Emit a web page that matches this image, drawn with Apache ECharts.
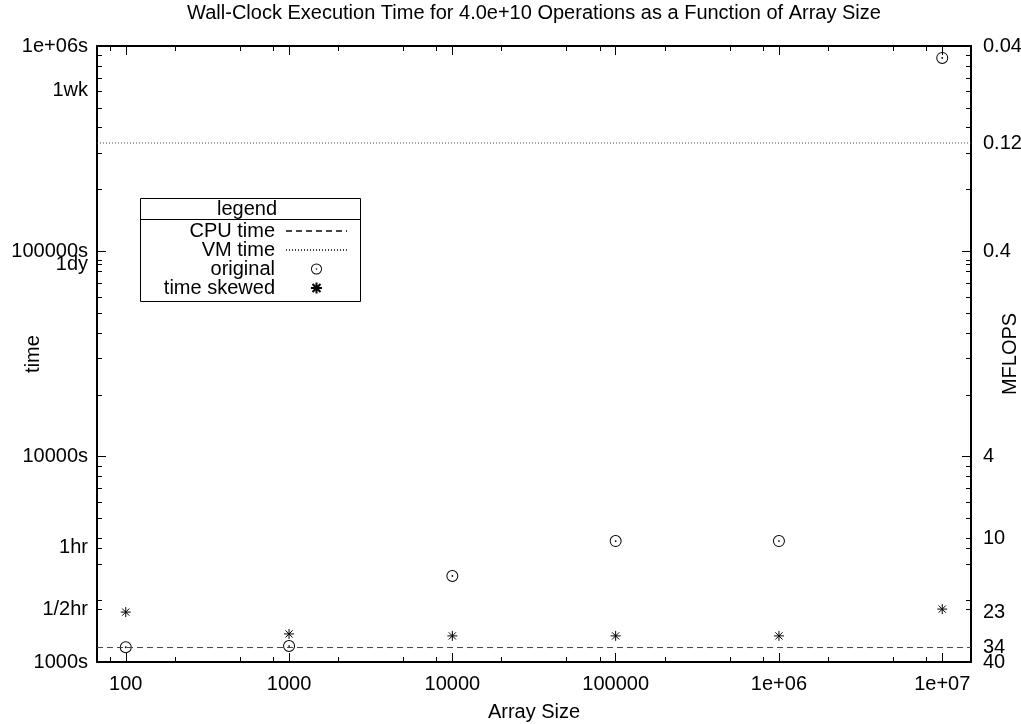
<!DOCTYPE html>
<html><head><meta charset="utf-8">
<script src="https://cdn.jsdelivr.net/npm/echarts@6/dist/echarts.min.js"></script>
<style>html,body{margin:0;padding:0;background:#fff}#c{width:1021px;height:724px}</style>
</head><body><div id="c"></div><script>
// ---- data ----
const arraySizes = [100, 1000, 10000, 100000, 1000000, 10000000];
const originalTimes = [1180, 1196, 2625, 3880, 3880, 875000];
const skewedTimes = [1750, 1370, 1340, 1340, 1340, 1810];
const cpuTime = 1176;
const vmTime = 337000;
const xRange = [100 / 1.5, 1.5e7];
const yRange = [1000, 1e6];
const mflopsRange = [0.04, 40];
const xTickValues = [100, 1000, 10000, 100000, 1e6, 1e7];
const xTickLabels = ['100', '1000', '10000', '100000', '1e+06', '1e+07'];
const yMajorTicks = [1000, 10000, 100000, 1e6];
const yTickValues = [1000, 1800, 3600, 10000, 86400, 100000, 604800, 1e6];
const yTickLabels = ['1000s', '1/2hr', '1hr', '10000s', '1dy', '100000s', '1wk', '1e+06s'];
const yExtraTicks = [1800, 3600, 86400, 604800];
const mflopsTickValues = [0.04, 0.12, 0.4, 4, 10, 23, 34, 40];
const mflopsTickLabels = ['0.04', '0.12', '0.4', '4', '10', '23', '34', '40'];
const xMinorMult = [2, 5, 8];
const yMinorMult = [2, 3, 4, 5, 6, 7, 8, 9];

function minorTicks(mults, range) {
  const out = [];
  for (let e = 0; e <= 8; e++) {
    const d = Math.pow(10, e);
    mults.forEach(m => { const v = m * d; if (v > range[0] && v < range[1]) out.push(v); });
  }
  return out;
}
const xMinorTicks = minorTicks(xMinorMult, xRange);
const yMinorTicks = minorTicks(yMinorMult, yRange).concat(yExtraTicks);

function pick(v, vals, labels) {
  for (let i = 0; i < vals.length; i++) if (Math.abs(v - vals[i]) <= 1e-3 * vals[i]) return labels[i];
  for (let i = 0; i < vals.length; i++) if (Math.abs(v - Math.log10(vals[i])) < 1e-4) return labels[i];
  return '';
}
// keep end values a hair inside the axis extent so float rounding does not drop them
function inside(vals, range) {
  return vals.map(v => v >= range[1] ? v * 0.99999 : (v <= range[0] ? v * 1.00001 : v));
}
// split label sets over two overlaid axes so neighbouring labels are never auto-hidden
const evenOf = a => a.filter((_, i) => i % 2 === 0);
const oddOf = a => a.filter((_, i) => i % 2 === 1);

const FONT = 'Liberation Sans';
const FS = 20;
const circleDot = 'path://M-6,0A6,6,0,1,1,6,0A6,6,0,1,1,-6,0ZM-5,0A5,5,0,1,0,5,0A5,5,0,1,0,-5,0ZM-0.9,0A0.9,0.9,0,1,1,0.9,0A0.9,0.9,0,1,1,-0.9,0Z';
const star = 'path://M0,-5L0,5M-5,0L5,0M-3.6,-3.6L3.6,3.6M-3.6,3.6L3.6,-3.6';

const chart = echarts.init(document.getElementById('c'), null, {renderer: 'canvas'});

function labelBase() {
  return {show: true, color: '#000', fontFamily: FONT, fontSize: FS, hideOverlap: false, showMinLabel: true, showMaxLabel: true};
}
function xAx(pos, ticks, len, showLine, labels) {
  return {
    type: 'log', logBase: 10, position: pos, min: xRange[0], max: xRange[1],
    axisLine: showLine ? {show: true, onZero: false, lineStyle: {color: '#000', width: 2}} : {show: false, onZero: false},
    axisTick: {show: true, inside: true, length: len, customValues: ticks, lineStyle: {color: '#000', width: 1}},
    axisLabel: labels ? Object.assign(labelBase(), {customValues: xTickValues, margin: 12,
      formatter: v => pick(v, xTickValues, xTickLabels)}) : {show: false},
    splitLine: {show: false}, minorTick: {show: false}
  };
}
function yAx(pos, ticks, len, showLine) {
  return {
    type: 'log', logBase: 10, position: pos, min: yRange[0], max: yRange[1],
    axisLine: showLine ? {show: true, lineStyle: {color: '#000', width: 2}} : {show: false},
    axisTick: {show: true, inside: true, length: len, customValues: ticks, lineStyle: {color: '#000', width: 1}},
    axisLabel: {show: false}, splitLine: {show: false}
  };
}
function mflopsAx(vals, withName) {
  const ax = {
    type: 'log', logBase: 10, position: 'right', inverse: true, min: mflopsRange[0], max: mflopsRange[1],
    axisLine: {show: false}, axisTick: {show: false}, splitLine: {show: false},
    axisLabel: Object.assign(labelBase(), {customValues: inside(vals, mflopsRange), margin: 12,
      formatter: v => pick(v, mflopsTickValues, mflopsTickLabels)})
  };
  if (withName) {
    Object.assign(ax, {name: 'MFLOPS', nameLocation: 'middle', nameGap: 29, nameMoveOverlap: false,
      nameTextStyle: {color: '#000', fontFamily: FONT, fontSize: FS}});
  }
  return ax;
}

const yLeft = yAx('left', yMajorTicks, 9, true);
yLeft.axisLabel = Object.assign(labelBase(), {customValues: yTickValues, margin: 9,
  formatter: v => pick(v, yTickValues, yTickLabels)});
yLeft.name = 'time';
yLeft.nameLocation = 'middle';
yLeft.nameGap = 54;
yLeft.nameMoveOverlap = false;
yLeft.nameTextStyle = {color: '#000', fontFamily: FONT, fontSize: FS};

const xBottom = xAx('bottom', xTickValues, 9, true, true);
xBottom.name = 'Array Size';
xBottom.nameLocation = 'middle';
xBottom.nameGap = 40;
xBottom.nameMoveOverlap = false;
xBottom.nameTextStyle = {color: '#000', fontFamily: FONT, fontSize: FS};

const option = {
  animation: false,
  backgroundColor: '#fff',
  title: {
    text: 'Wall-Clock Execution Time for 4.0e+10 Operations as a Function of Array Size',
    left: 534, top: 3, padding: 0, textAlign: 'center',
    textStyle: {color: '#000', fontFamily: FONT, fontSize: FS, fontWeight: 'normal'}
  },
  grid: {left: 97, right: 50, top: 46, bottom: 62, containLabel: false, outerBoundsMode: 'none'},
  xAxis: [
    xBottom,
    xAx('bottom', xMinorTicks, 5, false, false),
    xAx('top', xTickValues, 9, true, false),
    xAx('top', xMinorTicks, 5, false, false)
  ],
  yAxis: [
    yLeft,
    yAx('left', yMinorTicks, 5, false),
    mflopsAx(evenOf(mflopsTickValues), true),
    mflopsAx(oddOf(mflopsTickValues), false),
    yAx('right', yMajorTicks, 9, true),
    yAx('right', yMinorTicks, 5, false)
  ],
  legend: {
    orient: 'vertical', align: 'right', right: 1021 - 348, top: 221, padding: 0,
    itemWidth: 61, itemHeight: 11, itemGap: -1,
    textStyle: {color: '#000', fontFamily: FONT, fontSize: FS, padding: [0, 6, 0, 0]},
    data: ['CPU time', 'VM time', 'original', 'time skewed'],
    selectedMode: false
  },
  graphic: [
    {type: 'rect', shape: {x: 140.5, y: 198.5, width: 220, height: 103}, style: {fill: 'none', stroke: '#000', lineWidth: 1}, z: 100},
    {type: 'line', shape: {x1: 140, y1: 219.5, x2: 360, y2: 219.5}, style: {stroke: '#000', lineWidth: 1}, z: 100},
    {type: 'text', x: 277, y: 209, style: {text: 'legend', align: 'right', verticalAlign: 'middle', fill: '#000', font: FS + 'px "' + FONT + '"'}, z: 100}
  ],
  series: [
    {name: 'CPU time', type: 'line', xAxisIndex: 0, yAxisIndex: 0, symbol: 'none', silent: true,
      data: xRange.map(x => [x, cpuTime]),
      lineStyle: {color: '#444', width: 1, type: [6, 4]}, itemStyle: {color: '#444', opacity: 0}},
    {name: 'VM time', type: 'line', xAxisIndex: 0, yAxisIndex: 0, symbol: 'none', silent: true,
      data: xRange.map(x => [x, vmTime]),
      lineStyle: {color: '#444', width: 1, type: [1, 2]}, itemStyle: {color: '#444', opacity: 0}},
    {name: 'original', type: 'scatter', xAxisIndex: 0, yAxisIndex: 0, symbol: circleDot, symbolSize: 12,
      data: arraySizes.map((x, i) => [x, originalTimes[i]]),
      itemStyle: {color: '#000', opacity: 1}},
    {name: 'time skewed', type: 'scatter', xAxisIndex: 0, yAxisIndex: 0, symbol: star, symbolSize: 10,
      data: arraySizes.map((x, i) => [x, skewedTimes[i]]),
      itemStyle: {color: 'none', borderColor: '#000', borderWidth: 1, opacity: 1}}
  ]
};
chart.setOption(option);
</script></body></html>
